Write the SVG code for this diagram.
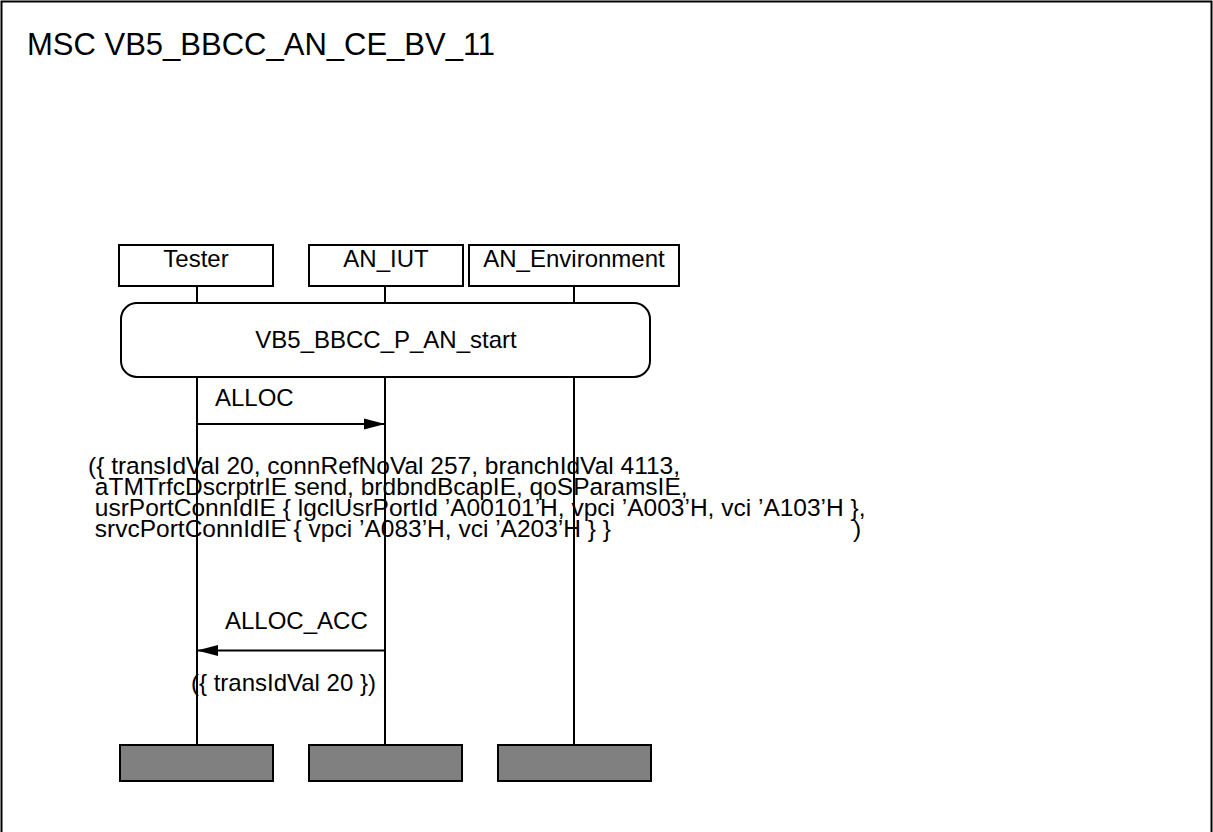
<svg xmlns="http://www.w3.org/2000/svg" width="1213" height="832" viewBox="0 0 1213 832">
<style>
.t{font-family:"Liberation Sans",Arial,sans-serif;font-size:24px;fill:#000}
.p{font-size:24.5px}
.c{text-anchor:middle}
.box{fill:#fff;stroke:#000;stroke-width:2}
.end{fill:#808080;stroke:#000;stroke-width:2}
.ln{stroke:#000;stroke-width:2;fill:none}
</style>
<defs>
<marker id="ah" markerUnits="userSpaceOnUse" markerWidth="22" markerHeight="12" refX="21" refY="6" orient="auto">
<path d="M0,0.5 L21,6 L0,11.5 Z" fill="#000"/>
</marker>
</defs>
<rect width="1213" height="832" fill="#fff"/>
<g id="frame">
<rect x="1.5" y="1.5" width="1210" height="900" class="ln"/>
<text x="27" y="55" style="font-family:'Liberation Sans',Arial,sans-serif;font-size:31px">MSC VB5_BBCC_AN_CE_BV_11</text>
</g>
<g id="lifelines">
<line x1="197" y1="286" x2="197" y2="745" class="ln"/>
<line x1="385" y1="286" x2="385" y2="745" class="ln"/>
<line x1="574" y1="286" x2="574" y2="745" class="ln"/>
</g>
<g id="Tester">
<rect x="119" y="245" width="154" height="41" class="box"/>
<text x="196" y="266.5" class="t c">Tester</text>
<rect x="120" y="745" width="153" height="36" class="end"/>
</g>
<g id="AN_IUT">
<rect x="309" y="245" width="154" height="41" class="box"/>
<text x="386" y="266.5" class="t c">AN_IUT</text>
<rect x="309" y="745" width="153" height="36" class="end"/>
</g>
<g id="AN_Environment">
<rect x="469" y="245" width="210" height="41" class="box"/>
<text x="574" y="266.5" class="t c">AN_Environment</text>
<rect x="498" y="745" width="153" height="36" class="end"/>
</g>
<g id="ref_start">
<rect x="121" y="303" width="529" height="74" rx="16" ry="16" class="box"/>
<text x="386" y="348" class="t c">VB5_BBCC_P_AN_start</text>
</g>
<g id="connectors">
<line x1="197" y1="424" x2="385" y2="424" class="ln" marker-end="url(#ah)"/>
<line x1="385" y1="650.5" x2="197" y2="650.5" class="ln" marker-end="url(#ah)"/>
</g>
<g id="msg_ALLOC">
<text x="215" y="406" class="t">ALLOC</text>
<text x="88" y="474" class="t p">({ transIdVal 20, connRefNoVal 257, branchIdVal 4113,</text>
<text x="88" y="495" class="t p" xml:space="preserve"> aTMTrfcDscrptrIE send, brdbndBcapIE, qoSParamsIE,</text>
<text x="88" y="516" class="t p" xml:space="preserve"> usrPortConnIdIE { lgclUsrPortId ’A00101’H, vpci ’A003’H, vci ’A103’H },</text>
<text x="88" y="537" class="t p" xml:space="preserve"> srvcPortConnIdIE { vpci ’A083’H, vci ’A203’H } }<tspan x="853">)</tspan></text>
</g>
<g id="msg_ALLOC_ACC">
<text x="225" y="629" class="t">ALLOC_ACC</text>
<text x="191" y="691" class="t">({ transIdVal 20 })</text>
</g>
</svg>
